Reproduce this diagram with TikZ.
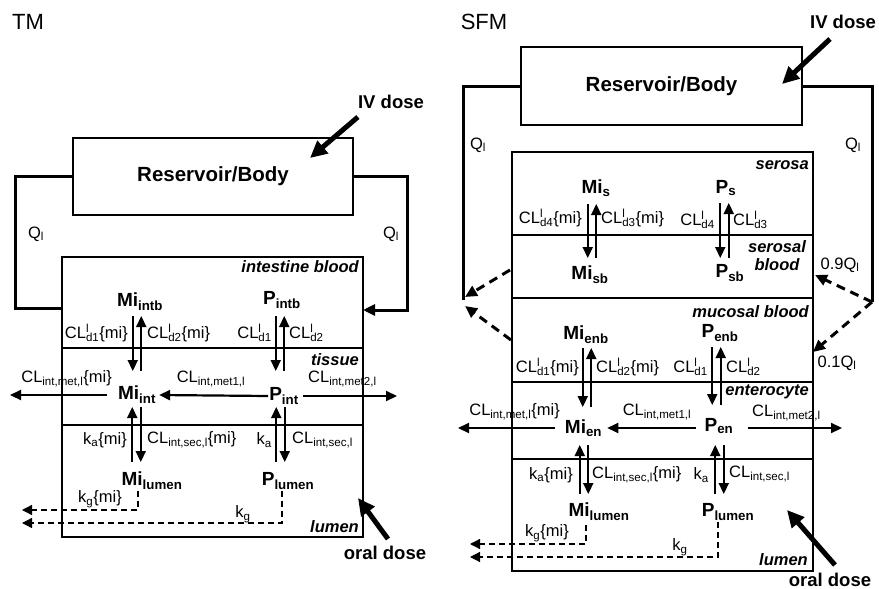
\documentclass[tikz,border=0pt]{standalone}
\usepackage{fontspec}
\setmainfont{Liberation Sans}
\usetikzlibrary{arrows.meta}

\newcommand\sub[1]{\textsubscript{#1}}
\newcommand\supsub[2]{\rlap{\textsuperscript{#1}}\textsubscript{#2}}
% pair of opposite fluxes between two named points
\newcommand\bipair[2]{%
  \draw[flow] ([xshift=-4.25pt]#1) -- ([xshift=-4.25pt]#2);
  \draw[flow] ([xshift=4.25pt]#2) -- ([xshift=4.25pt]#1);}

\tikzset{
  box/.style={draw,line width=1.4pt},
  resbox/.style={draw,line width=1.4pt,font=\bfseries\fontsize{20.5}{22}\selectfont},
  title/.style={font=\fontsize{22}{24}\selectfont},
  comp/.style={font=\bfseries\fontsize{19}{21}\selectfont,inner sep=1pt},
  lab/.style={font=\fontsize{16.5}{18}\selectfont,inner sep=1pt},
  reg/.style={font=\bfseries\itshape\fontsize{16.5}{18}\selectfont,inner sep=1pt},
  dosis/.style={font=\bfseries\fontsize{18.5}{20}\selectfont,inner sep=2pt},
  flow/.style={line width=2.2pt,-{Triangle[length=11pt,width=10pt]}},
  loopline/.style={line width=3pt},
  iv/.style={line width=5pt,-{Triangle[length=17pt,width=16pt]}},
  excr/.style={line width=1.3pt,dash pattern=on 6pt off 4pt,-{Triangle[length=10pt,width=10pt]}},
  back/.style={line width=3pt,dash pattern=on 9pt off 6pt,-{Triangle[length=12pt,width=11pt]}},
}

\begin{document}
\begin{tikzpicture}[x=1pt,y=-1pt]
  \useasboundingbox (0,0) rectangle (879,589);
  % ===== TM =====
  \node[title] (tmT) at (28,22) {TM};
  \node[resbox,minimum width=280pt,minimum height=77pt] (resT) at (213,176.5) {Reservoir/Body};
  \node[dosis] (ivT) at (391,102) {IV dose};
  \coordinate (ivTipT) at (310,158);
  \draw[iv] ([xshift=2pt,yshift=-6pt]ivT.south west) -- (ivTipT);
  % intestine compartments
  \draw[box] (62,257) rectangle (363,537);
  \draw[box] (62,348) -- (363,348);
  \draw[box] (62,425) -- (363,425);
  \coordinate (inT) at (62,308);
  \coordinate (outT) at (363,310);
  \draw[loopline] (resT.west) -| (15,308) -- (inT);
  \draw[loopline,-{Triangle[length=12pt,width=11pt]}] (resT.east) -| (407,310) -- (outT);
  \node[lab] (qlT) at (36,234) {Q\sub{l}};
  \node[lab] (qrT) at (391,234) {Q\sub{l}};
  \node[reg,anchor=east] (ibT) at (360,267) {intestine blood};
  \node[reg,anchor=east] (tisT) at (360,360) {tissue};
  \node[reg,anchor=east] (lumT) at (360,527) {lumen};
  \node[comp] (miIntbT) at (140,302) {Mi\sub{intb}};
  \node[comp] (pIntbT) at (282,300) {P\sub{intb}};
  \node[comp] (miIntT) at (137,395) {Mi\sub{int}};
  \node[comp] (pIntT) at (284,396) {P\sub{int}};
  \node[comp] (miLumT) at (152,481) {Mi\sub{lumen}};
  \node[comp] (pLumT) at (288,481) {P\sub{lumen}};
  \node[lab,anchor=east] (d1miT) at (129,333) {CL\supsub{l}{d1}\{mi\}};
  \node[lab,anchor=west] (d2miT) at (146,333) {CL\supsub{l}{d2}\{mi\}};
  \node[lab,anchor=east] (d1pT) at (273,333) {CL\supsub{l}{d1}};
  \node[lab,anchor=west] (d2pT) at (288,333) {CL\supsub{l}{d2}};
  \node[lab,anchor=east] (metMiT) at (113,379) {CL\sub{int,met,l}\{mi\}};
  \node[lab] (met1T) at (211,379) {CL\sub{int,met1,l}};
  \node[lab,anchor=west] (met2T) at (307,379) {CL\sub{int,met2,l}};
  \node[lab,anchor=east] (kaMiT) at (128,440) {k\sub{a}\{mi\}};
  \node[lab,anchor=west] (secMiT) at (146,440) {CL\sub{int,sec,l}\{mi\}};
  \node[lab,anchor=east] (kaPT) at (273,440) {k\sub{a}};
  \node[lab,anchor=west] (secPT) at (291,440) {CL\sub{int,sec,l}};
  \node[lab] (kgMiT) at (100,499) {k\sub{g}\{mi\}};
  \node[lab] (kgPT) at (243,514) {k\sub{g}};
  % fluxes
  \coordinate (bTopMiT) at (137,316);   \coordinate (bBotMiT) at (137,371);
  \coordinate (bTopPT) at (280,316);    \coordinate (bBotPT) at (280,371);
  \coordinate (lTopMiT) at (136.5,407); \coordinate (lBotMiT) at (136.5,462);
  \coordinate (lTopPT) at (280.5,407);  \coordinate (lBotPT) at (280.5,462);
  \bipair{bTopMiT}{bBotMiT}
  \bipair{bTopPT}{bBotPT}
  \bipair{lBotMiT}{lTopMiT}
  \bipair{lBotPT}{lTopPT}
  \coordinate (metEndT) at (10,395);
  \coordinate (met2EndT) at (397,396);
  \draw[flow] ([xshift=-10pt]miIntT.west) -- (metEndT);
  \draw[flow] (pIntT.west) -- ([xshift=2pt]miIntT.east);
  \draw[flow] ([xshift=3pt]pIntT.east) -- (met2EndT);
  \coordinate (kgEndMiT) at (22,510);
  \coordinate (kgEndPT) at (22,523);
  \draw[excr] ([xshift=-14pt]miLumT.south) |- (kgEndMiT);
  \draw[excr] ([xshift=-6pt]pLumT.south) |- (kgEndPT);
  \node[dosis] (oralT) at (385,553) {oral dose};
  \coordinate (oralTipT) at (358,498);
  \draw[iv] ([xshift=3pt,yshift=5pt]oralT.north) -- (oralTipT);

  % ===== SFM =====
  \node[title] (sfmS) at (484,22) {SFM};
  \node[resbox,minimum width=281pt,minimum height=78pt] (resS) at (661.5,86) {Reservoir/Body};
  \node[dosis] (ivS) at (843,22) {IV dose};
  \coordinate (ivTipS) at (782,84);
  \draw[iv] ([xshift=-13pt,yshift=-8pt]ivS.south) -- (ivTipS);
  % serosa and mucosa
  \draw[box] (512,152) rectangle (813,298);
  \draw[box] (512,235) -- (813,235);
  \draw[box] (512,298) rectangle (813,571);
  \draw[box] (512,382) -- (813,382);
  \draw[box] (512,459) -- (813,459);
  \coordinate (retS) at (463,300);
  \coordinate (splitS) at (872,302);
  \draw[loopline] (resS.west) -| (retS);
  \draw[loopline] (resS.east) -| (splitS);
  \coordinate (sbOutS) at (510,270);  \coordinate (retAS) at (465,297);
  \coordinate (mbOutS) at (511,340);  \coordinate (retBS) at (465,306);
  \coordinate (sbInS) at (815,275);   \coordinate (mbInS) at (813,352);
  \draw[back] (sbOutS) -- (retAS);
  \draw[back] (mbOutS) -- (retBS);
  \draw[back] (splitS) -- (sbInS);
  \draw[back] (splitS) -- (mbInS);
  \node[lab] (qlS) at (478,145) {Q\sub{l}};
  \node[lab] (qrS) at (853,145) {Q\sub{l}};
  \node[lab] (q09S) at (840,265) {0.9Q\sub{l}};
  \node[lab] (q01S) at (837,363) {0.1Q\sub{l}};
  \node[reg,anchor=east] (serS) at (810,165) {serosa};
  \node[reg,align=center] (sbS) at (777,256) {serosal\\blood};
  \node[reg,anchor=east] (mbS) at (810,312) {mucosal blood};
  \node[reg,anchor=east] (entS) at (810,392) {enterocyte};
  \node[reg,anchor=east] (lumS) at (809,560) {lumen};
  \node[comp] (miSS) at (596,188) {Mi\sub{s}};
  \node[comp] (pSS) at (726,188) {P\sub{s}};
  \node[comp] (miSbS) at (590,275) {Mi\sub{sb}};
  \node[comp] (pSbS) at (730,273) {P\sub{sb}};
  \node[comp] (miEnbS) at (586,335) {Mi\sub{enb}};
  \node[comp] (pEnbS) at (720,333) {P\sub{enb}};
  \node[comp] (miEnS) at (583.5,428) {Mi\sub{en}};
  \node[comp] (pEnS) at (719,426) {P\sub{en}};
  \node[comp] (miLumS) at (599,512) {Mi\sub{lumen}};
  \node[comp] (pLumS) at (728,512) {P\sub{lumen}};
  \node[lab,anchor=east] (d4miS) at (583,218) {CL\supsub{l}{d4}\{mi\}};
  \node[lab,anchor=west] (d3miS) at (600,218) {CL\supsub{l}{d3}\{mi\}};
  \node[lab,anchor=east] (d4pS) at (716,220) {CL\supsub{l}{d4}};
  \node[lab,anchor=west] (d3pS) at (732,220) {CL\supsub{l}{d3}};
  \node[lab,anchor=east] (d1miS) at (580,367) {CL\supsub{l}{d1}\{mi\}};
  \node[lab,anchor=west] (d2miS) at (595,367) {CL\supsub{l}{d2}\{mi\}};
  \node[lab,anchor=east] (d1pS) at (709,367) {CL\supsub{l}{d1}};
  \node[lab,anchor=west] (d2pS) at (725,367) {CL\supsub{l}{d2}};
  \node[lab,anchor=east] (metMiS) at (561,412) {CL\sub{int,met,l}\{mi\}};
  \node[lab] (met1S) at (657,412) {CL\sub{int,met1,l}};
  \node[lab,anchor=west] (met2S) at (751,413) {CL\sub{int,met2,l}};
  \node[lab,anchor=east] (kaMiS) at (574,475) {k\sub{a}\{mi\}};
  \node[lab,anchor=west] (secMiS) at (591,475) {CL\sub{int,sec,l}\{mi\}};
  \node[lab,anchor=east] (kaPS) at (710,475) {k\sub{a}};
  \node[lab,anchor=west] (secPS) at (728,474) {CL\sub{int,sec,l}};
  \node[lab] (kgMiS) at (547,533) {k\sub{g}\{mi\}};
  \node[lab] (kgPS) at (680,547) {k\sub{g}};
  % fluxes
  \coordinate (sTopMiS) at (592,204);   \coordinate (sBotMiS) at (592,258);
  \coordinate (sTopPS) at (724.5,203);  \coordinate (sBotPS) at (724.5,258);
  \coordinate (bTopMiS) at (587,348);   \coordinate (bBotMiS) at (587,407);
  \coordinate (bTopPS) at (716.5,347);  \coordinate (bBotPS) at (716.5,405);
  \coordinate (lTopMiS) at (584,445);   \coordinate (lBotMiS) at (584,494);
  \coordinate (lTopPS) at (719.5,445);  \coordinate (lBotPS) at (719.5,494);
  \bipair{sTopMiS}{sBotMiS}
  \bipair{sTopPS}{sBotPS}
  \bipair{bTopMiS}{bBotMiS}
  \bipair{bTopPS}{bBotPS}
  \bipair{lBotMiS}{lTopMiS}
  \bipair{lBotPS}{lTopPS}
  \coordinate (metEndS) at (458,428);
  \coordinate (met2EndS) at (842,428);
  \draw[flow] ([xshift=-9pt]miEnS.west) -- (metEndS);
  \draw[flow] ([xshift=-7pt]pEnS.west |- miEnS.west) -- ([xshift=4pt]miEnS.east);
  \draw[flow] ([xshift=13pt]pEnS.east |- miEnS.east) -- (met2EndS);
  \coordinate (kgEndMiS) at (470,544);
  \coordinate (kgEndPS) at (470,557);
  \draw[excr] ([xshift=-13pt,yshift=-3pt]miLumS.south) |- (kgEndMiS);
  \draw[excr] ([xshift=-10pt]pLumS.south) |- (kgEndPS);
  \node[dosis,inner sep=0pt] (oralS) at (830,580) {oral dose};
  \coordinate (oralTipS) at (787,510);
  \draw[iv] ([xshift=5pt,yshift=8pt]oralS.north) -- (oralTipS);
\end{tikzpicture}
\end{document}
